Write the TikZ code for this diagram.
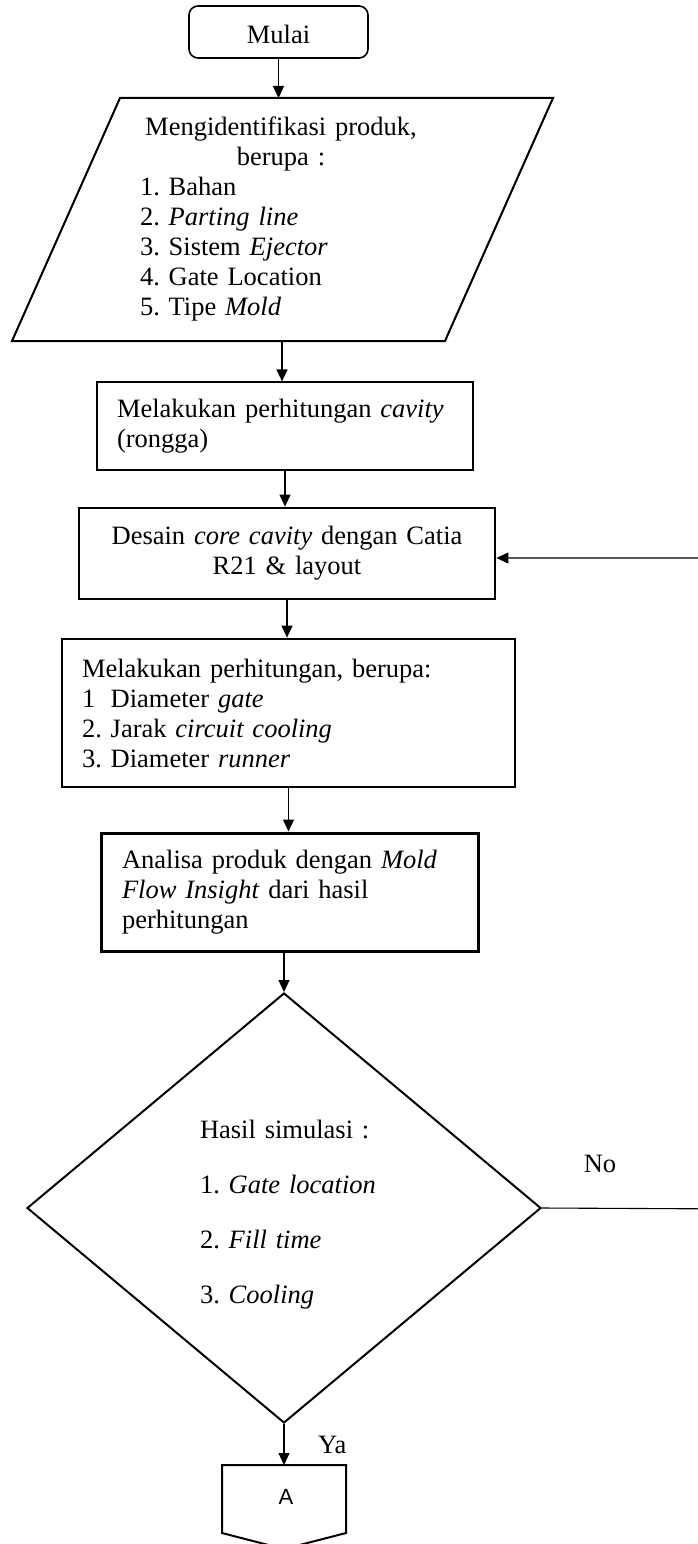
\documentclass[tikz,border=0pt]{standalone}
\usepackage{fontspec}
\setmainfont{Liberation Serif}
\newfontfamily\arialf{Liberation Sans}
\usetikzlibrary{arrows.meta,shapes.geometric}
\frenchspacing
\begin{document}
\begin{tikzpicture}[x=1pt,y=-1pt,
  every node/.style={font=\fontsize{26.5}{30}\selectfont, inner sep=0pt},
  arr/.style={line width=1.3pt,-{Triangle[length=12pt,width=11pt]}},
  startbox/.style={draw,line width=1.6pt,rounded corners=9pt,minimum width=179pt,minimum height=52pt,text height=24pt},
  thinbox/.style={draw,line width=1.2pt,inner xsep=20pt,align=left},
  thickbox/.style={draw,line width=2.8pt,align=left},
  shapeline/.style={line width=2pt},
  decision/.style={draw,diamond,line width=2pt,minimum width=514pt,minimum height=430pt},
  looparr/.style={line width=1.1pt,-{Triangle[length=12pt,width=11pt]}}
]
\fill[white,use as bounding box] (0,0) rectangle (698,1544);

% Start
\node[startbox] (mulai) at (278.5,32) {Mulai};

% Input parallelogram
\coordinate (pTL) at (120,98);
\coordinate (pTR) at (553,98);
\coordinate (pBR) at (445,341);
\coordinate (pBL) at (12,341);
\coordinate (pB) at (282,341);
\draw[shapeline] (pTL) -- (pTR) -- (pBR) -- (pBL) -- cycle;
\node[align=left,text width=282pt] (partext) at (281,218.85)
  {\makebox[282pt][c]{Mengidentifikasi produk,}\\
   \makebox[282pt][c]{berupa :}\\
   1. Bahan\\
   2. \textit{Parting line}\\
   3. Sistem \textit{Ejector}\\
   4. Gate Location\\
   5. Tipe \textit{Mold}};

% Process boxes
\node[thinbox,text width=336pt,minimum height=88pt] (box1) at (285,426)
  {Melakukan perhitungan \textit{cavity}\\ (rongga)};
\node[thickbox,align=center,inner xsep=10pt,text width=396pt,minimum height=91pt] (box2) at (287,553.5)
  {Desain \textit{core cavity} dengan Catia\\ R21 \& layout};
\node[thickbox,inner xsep=20pt,text width=413pt,minimum height=148pt] (box3) at (288.5,713)
  {Melakukan perhitungan, berupa:\\
   1\phantom{.} Diameter \textit{gate}\\
   2. Jarak \textit{circuit cooling}\\
   3. Diameter \textit{runner}};
\node[thickbox,line width=3pt,inner xsep=21pt,text width=335pt,minimum height=118pt] (box4) at (289.5,892)
  {Analisa produk dengan \textit{Mold}\\
   \textit{Flow Insight} dari hasil\\
   perhitungan};

% Decision
\node[decision] (dec) at (284,1208) {};
\node[align=left,text width=200pt,font=\fontsize{26.5}{55}\selectfont] (dectext) at (300,1214.35)
  {Hasil simulasi :\\
   1. \textit{Gate location}\\
   2. \textit{Fill time}\\
   3. \textit{Cooling}};

% Off-page connector
\coordinate (Atop) at (284,1465);
\draw[shapeline] (222,1465) -- (346,1465) -- (346,1533) -- (284,1549) -- (222,1533) -- cycle;
\node (conA) at (286,1497) {\arialf\fontsize{22}{26}\selectfont A};

% Connectors
\draw[arr] (mulai.south) -- (mulai.south |- pTL);
\draw[arr] (pB) -- (pB |- box1.north);
\draw[arr] (box1.south) -- (box1.south |- box2.north);
\draw[arr] (box2.south) -- (box2.south |- box3.north);
\draw[arr] (box3.south) -- (box3.south |- box4.north);
\draw[arr] (dec.north |- box4.south) -- (dec.north);
\draw[arr] (dec.south) -- (Atop);

\coordinate (r1) at (740,1209);
\coordinate (r2) at (740,558);
\draw[looparr] (dec.east) -- (r1) -- (r2) -- (box2.east |- r2);

% Labels
\node[anchor=base] (nolabel) at (600,1172) {No};
\node[anchor=base west] (yalabel) at (318,1453) {Ya};
\end{tikzpicture}
\end{document}
